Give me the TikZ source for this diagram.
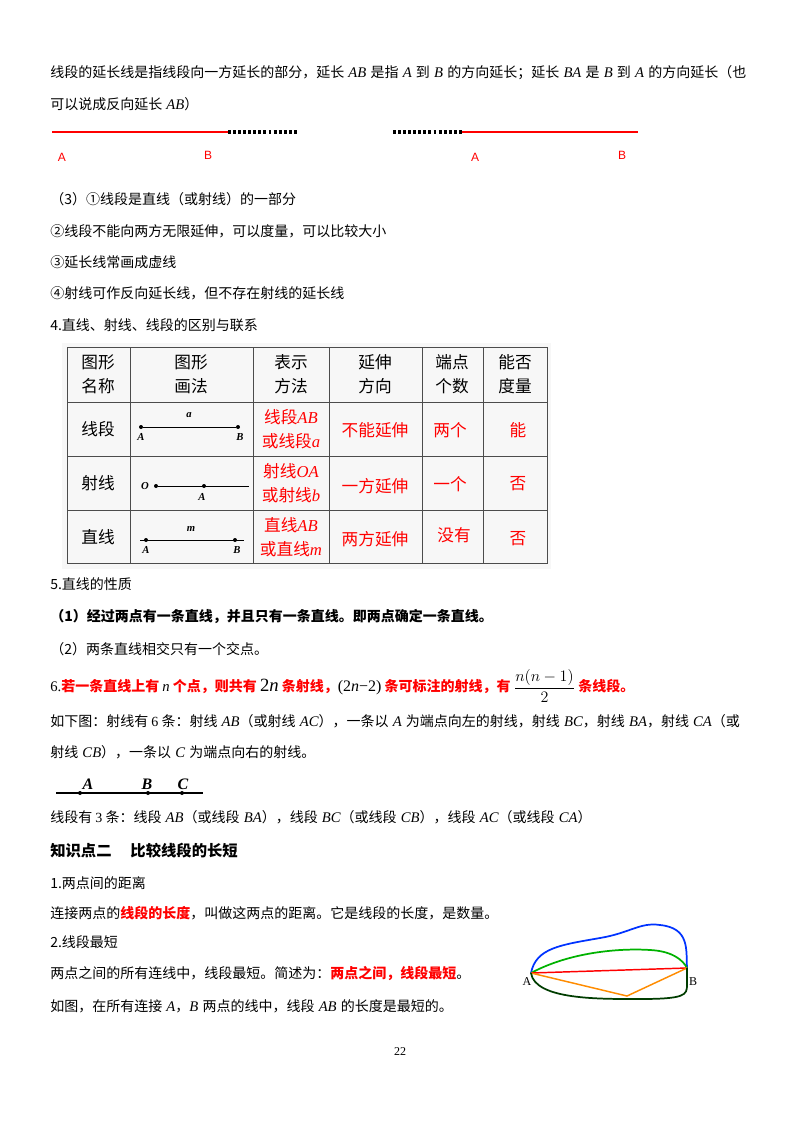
\documentclass[tikz,border=0pt]{standalone}
\usepackage{fontspec}
\setmainfont{Noto Sans CJK SC}
\newfontfamily\tms{Liberation Serif}
\newfontfamily\ars{Liberation Sans}
\newcommand{\iv}[1]{\hspace{0.3em}{\tms\itshape\fontsize{11}{12}\selectfont #1}\hspace{0.3em}}
\newcommand{\iva}[1]{\hspace{0.3em}{\tms\itshape\fontsize{11}{12}\selectfont #1}}
\newcommand{\ivb}[1]{{\tms\itshape\fontsize{11}{12}\selectfont #1}\hspace{0.3em}}
\newcommand{\ivc}[1]{{\tms\itshape\fontsize{11}{12}\selectfont #1}}
\newcommand{\ic}[1]{{\tms\itshape #1}}
\newcommand{\rb}[1]{{\color{red}\bfseries #1}}
\begin{document}
\begin{tikzpicture}[x=0.75pt,y=-0.75pt,
  txt/.style={anchor=west,inner sep=0pt,font=\fontsize{10.5}{12}\selectfont},
  cell/.style={inner sep=0pt,align=center,font=\fontsize{12.5}{18}\selectfont},
  rcell/.style={cell,text=red},
  lab/.style={inner sep=0pt,font=\ars\fontsize{9}{10}\selectfont,text=red},
  dot/.style={circle,fill=black,inner sep=0pt,minimum size=3pt},
  tl/.style={inner sep=0pt,font=\tms\itshape\bfseries\fontsize{8}{9}\selectfont}]
\useasboundingbox (0,0) rectangle (800,1132);
\fill[white] (0,0) rectangle (800,1132);
\node[txt] (l1) at (50,73) {线段的延长线是指线段向一方延长的部分，延长\iv{AB}是指\iv{A}到\iv{B}的方向延长；延长\iv{BA}是\iv{B}到\iv{A}的方向延长（也};
\node[txt] (l2) at (50,104) {可以说成反向延长\iva{AB}）};
% extension figures
\coordinate (a1) at (52,132); \coordinate (b1) at (228,132); \coordinate (e1) at (298,132);
\draw[red,line width=2.2pt] (a1) -- (b1);
\draw[line width=2.4pt,dash pattern=on 2.2pt off 1.6pt] (b1) -- (e1);
\coordinate (e2) at (393,132); \coordinate (a2) at (462,132); \coordinate (b2) at (638,132);
\draw[line width=2.4pt,dash pattern=on 2.2pt off 1.6pt] (e2) -- (a2);
\draw[red,line width=2.2pt] (a2) -- (b2);
\node[lab] (la1) at (62,157) {A}; \node[lab] (lb1) at (208,155) {B};
\node[lab] (la2) at (475,157) {A}; \node[lab] (lb2) at (622,155) {B};
\node[txt] (l3) at (50,199) {（3）①线段是直线（或射线）的一部分};
\node[txt] (l4) at (50,231) {②线段不能向两方无限延伸，可以度量，可以比较大小};
\node[txt] (l5) at (50,262) {③延长线常画成虚线};
\node[txt] (l6) at (50,293) {④射线可作反向延长线，但不存在射线的延长线};
\node[txt] (l7) at (50,325) {4.直线、射线、线段的区别与联系};
% table
\fill[black!3] (62,343) rectangle (551,569);
\draw[black!70,line width=0.6pt] (67,347) rectangle (547,563);
\foreach \x in {130,253,329,422,483} \draw[black!70,line width=0.5pt] (\x,347) -- (\x,563);
\foreach \y in {402,456,510} \draw[black!70,line width=0.5pt] (67,\y) -- (547,\y);
\node[cell] (h1) at (98,374) {图形\\名称};
\node[cell] (h2) at (191,374) {图形\\画法};
\node[cell] (h3) at (291,374) {表示\\方法};
\node[cell] (h4) at (375,374) {延伸\\方向};
\node[cell] (h5) at (452,374) {端点\\个数};
\node[cell] (h6) at (515,374) {能否\\度量};
\node[cell] (r1) at (98,429) {线段};
\node[cell] (r2) at (98,483) {射线};
\node[cell] (r3) at (98,537) {直线};
% row1 drawing
\node[dot] (ta) at (141,427) {}; \node[dot] (tb) at (238,427) {};
\draw (ta) -- (tb);
\node[tl] at (141,437) {A}; \node[tl] at (240,437) {B}; \node[tl] at (189,415) {a};
% row2
\node[dot] (to) at (156,486) {}; \node[dot] (toa) at (204,486) {};
\coordinate (tend) at (249,486);
\draw (to) -- (tend);
\node[tl] at (145,486) {O}; \node[tl] at (202,497) {A};
% row3
\coordinate (tl1) at (140,540); \coordinate (tl2) at (244,540);
\node[dot] (tma) at (146,540) {}; \node[dot] (tmb) at (235,540) {};
\draw (tl1) -- (tl2);
\node[tl] at (146,550) {A}; \node[tl] at (237,550) {B}; \node[tl] at (191,529) {m};
\node[rcell] (c13) at (291,429) {线段\ic{AB}\\或线段\ic{a}};
\node[rcell] (c23) at (291,483) {射线\ic{OA}\\或射线\ic{b}};
\node[rcell] (c33) at (291,537) {直线\ic{AB}\\或直线\ic{m}};
\node[rcell] (c14) at (375,430) {不能延伸};
\node[rcell] (c24) at (375,486) {一方延伸};
\node[rcell] (c34) at (375,539) {两方延伸};
\node[rcell] (c15) at (450,430) {两个};
\node[rcell] (c25) at (450,484) {一个};
\node[rcell] (c35) at (454,535) {没有};
\node[rcell] (c16) at (518,430) {能};
\node[rcell] (c26) at (518,484) {否};
\node[rcell] (c36) at (518,539) {否};
\node[txt] (l8) at (50,584) {5.直线的性质};
\node[txt,font=\bfseries\fontsize{10.5}{12}\selectfont] (l9) at (50,617) {（1）经过两点有一条直线，并且只有一条直线。即两点确定一条直线。};
\node[txt] (l10) at (50,649) {（2）两条直线相交只有一个交点。};
\node[txt] (l11) at (50,686) {{\tms\fontsize{11}{12}\selectfont 6.}\rb{若一条直线上有} {\tms\itshape\fontsize{11}{12}\selectfont n} \rb{个点，则共有} {\tms\fontsize{14}{14}\selectfont 2\itshape n} \rb{条射线，}{\tms\fontsize{12}{12}\selectfont(2\itshape n\upshape −2)} \rb{条可标注的射线，有} {\fontsize{12}{12}\selectfont$\displaystyle\frac{n(n-1)}{2}$} \rb{条线段。}};
\node[txt] (l12) at (50,721) {如下图：射线有 {\tms 6} 条：射线\iva{AB}（或射线\iva{AC}），一条以\iv{A}为端点向左的射线，射线\iva{BC}，射线\iva{BA}，射线\iva{CA}（或};
\node[txt] (l13) at (50,752) {射线\iva{CB}），一条以\iv{C}为端点向右的射线。};
% ABC line
\coordinate (s1) at (56,793); \coordinate (s2) at (203,793);
\draw[line width=0.8pt] (s1) -- (s2);
\node[dot] (pa) at (80,793) {}; \node[dot] (pb) at (148,793) {}; \node[dot] (pc) at (182,793) {};
\node[inner sep=0pt,font=\tms\itshape\bfseries\fontsize{12}{12}\selectfont] at (88,784) {A};
\node[inner sep=0pt,font=\tms\itshape\bfseries\fontsize{12}{12}\selectfont] at (147,784) {B};
\node[inner sep=0pt,font=\tms\itshape\bfseries\fontsize{12}{12}\selectfont] at (183,784) {C};
\node[txt] (l14) at (50,817) {线段有 {\tms 3} 条：线段\iva{AB}（或线段\iva{BA}），线段\iva{BC}（或线段\iva{CB}），线段\iva{AC}（或线段\iva{CA}）};
\node[txt,font=\bfseries\fontsize{11.5}{13}\selectfont] (l15) at (50,851) {知识点二\quad\ 比较线段的长短};
\node[txt] (l16) at (50,883) {1.两点间的距离};
\node[txt] (l17) at (50,913) {连接两点的\rb{线段的长度}，叫做这两点的距离。它是线段的长度，是数量。};
\node[txt] (l18) at (50,942) {2.线段最短};
\node[txt] (l19) at (50,973) {两点之间的所有连线中，线段最短。简述为：\rb{两点之间，线段最短}。};
\node[txt] (l20) at (50,1006) {如图，在所有连接\iva{A}，\ivb{B}两点的线中，线段\iv{AB}的长度是最短的。};
\node[inner sep=0pt,font=\tms\fontsize{9}{10}\selectfont] (pg) at (400,1052) {22};
% shortest path figure
\coordinate (A) at (531,973); \coordinate (B) at (687,968); \coordinate (O) at (627,996);
\draw[blue!80!cyan,line width=1.3pt] (A) .. controls (536,948) and (560,945) .. (600,938)
  .. controls (630,933) and (640,922) .. (660,925) .. controls (690,928) and (686,950) .. (B);
\draw[green!70!black,line width=1.3pt] (A) .. controls (570,952) and (620,948) .. (650,950) .. controls (672,951) and (683,960) .. (B);
\draw[red,line width=1.1pt] (A) -- (B);
\draw[orange!90!yellow,line width=1.1pt] (A) -- (O) -- (B);
\draw[black!60!green!60!black,line width=1.3pt] (A) .. controls (535,1000) and (600,999) .. (640,999) .. controls (685,999) and (687,995) .. (687,985) -- (B);
\node[inner sep=0pt,font=\tms\fontsize{9}{10}\selectfont] (lA) at (527,982) {A};
\node[inner sep=0pt,font=\tms\fontsize{9}{10}\selectfont] (lB) at (693,982) {B};
\end{tikzpicture}
\end{document}
